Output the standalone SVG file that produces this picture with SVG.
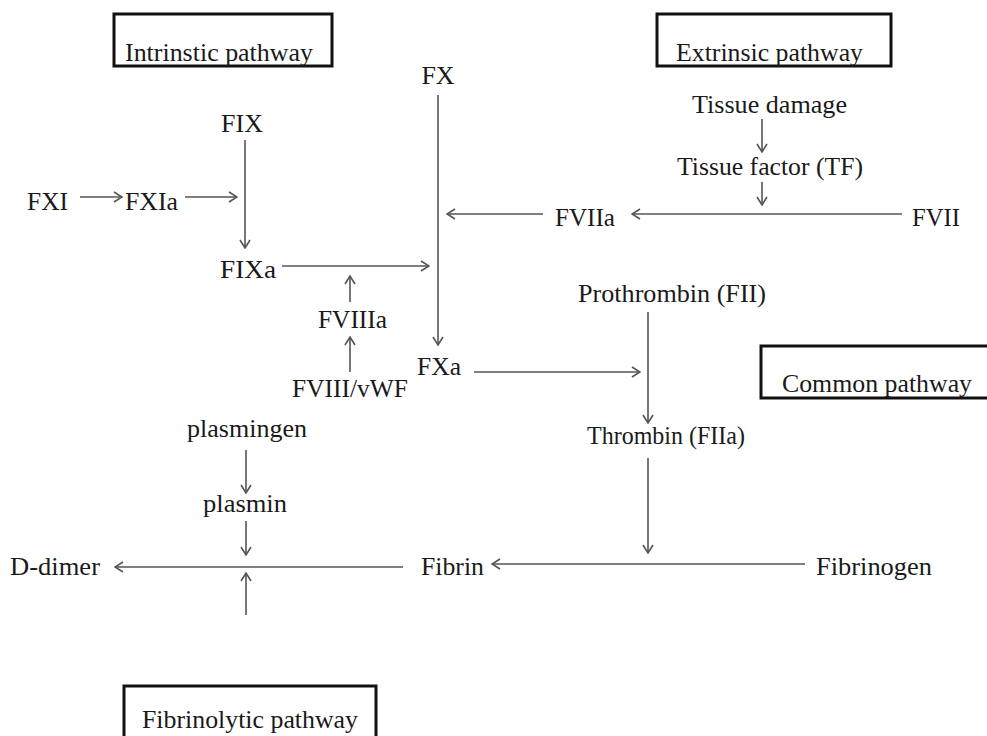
<svg xmlns="http://www.w3.org/2000/svg" width="987" height="736" viewBox="0 0 987 736">
<defs>
<style>
text{font-family:"Liberation Serif","Times New Roman",serif;font-size:26px;fill:#1a1a1a}
.box{fill:#fff;stroke:#111;stroke-width:3}
.c line{stroke:#555;stroke-width:1.6;fill:none;marker-end:url(#ah)}
</style>
<marker id="ah" viewBox="0 0 10 12" refX="9" refY="6" markerWidth="10" markerHeight="12" markerUnits="userSpaceOnUse" orient="auto">
<polyline points="1,1 9,6 1,11" fill="none" stroke="#555" stroke-width="1.6"/>
</marker>
</defs>
<rect width="987" height="736" fill="#fff"/>
<g id="intrinsic-box"><rect class="box" x="114" y="14" width="218" height="52"/><text x="125" y="61" textLength="188" lengthAdjust="spacingAndGlyphs">Intrinstic pathway</text></g>
<g id="extrinsic-box"><rect class="box" x="657" y="14" width="234" height="52"/><text x="676" y="61" textLength="187" lengthAdjust="spacingAndGlyphs">Extrinsic pathway</text></g>
<g id="common-box"><rect class="box" x="761" y="346" width="240" height="52"/><text x="782" y="392" textLength="190" lengthAdjust="spacingAndGlyphs">Common pathway</text></g>
<g id="fibrinolytic-box"><rect class="box" x="124" y="686" width="252" height="60"/><text x="142" y="728" textLength="216" lengthAdjust="spacingAndGlyphs">Fibrinolytic pathway</text></g>
<g id="n-fx"><text x="438" y="84" text-anchor="middle">FX</text></g>
<g id="n-tissue-damage"><text x="692" y="113" textLength="155" lengthAdjust="spacingAndGlyphs">Tissue damage</text></g>
<g id="n-tf"><text x="677" y="175" textLength="186" lengthAdjust="spacingAndGlyphs">Tissue factor (TF)</text></g>
<g id="n-fix"><text x="242" y="132" text-anchor="middle">FIX</text></g>
<g id="n-fxi"><text x="27" y="210" textLength="41" lengthAdjust="spacingAndGlyphs">FXI</text></g>
<g id="n-fxia"><text x="125" y="210" textLength="53" lengthAdjust="spacingAndGlyphs">FXIa</text></g>
<g id="n-fviia"><text x="555" y="226" textLength="60" lengthAdjust="spacingAndGlyphs">FVIIa</text></g>
<g id="n-fvii"><text x="912" y="226" textLength="48" lengthAdjust="spacingAndGlyphs">FVII</text></g>
<g id="n-fixa"><text x="220" y="278" textLength="56" lengthAdjust="spacingAndGlyphs">FIXa</text></g>
<g id="n-prothrombin"><text x="578" y="302" textLength="188" lengthAdjust="spacingAndGlyphs">Prothrombin (FII)</text></g>
<g id="n-fviiia"><text x="318" y="328" textLength="69" lengthAdjust="spacingAndGlyphs">FVIIIa</text></g>
<g id="n-fxa"><text x="417" y="375" textLength="44" lengthAdjust="spacingAndGlyphs">FXa</text></g>
<g id="n-fviii"><text x="292" y="397" textLength="116" lengthAdjust="spacingAndGlyphs">FVIII/vWF</text></g>
<g id="n-plasmingen"><text x="187" y="437" textLength="120" lengthAdjust="spacingAndGlyphs">plasmingen</text></g>
<g id="n-thrombin"><text x="587" y="444" textLength="158" lengthAdjust="spacingAndGlyphs">Thrombin (FIIa)</text></g>
<g id="n-plasmin"><text x="203" y="512" textLength="84" lengthAdjust="spacingAndGlyphs">plasmin</text></g>
<g id="n-ddimer"><text x="10" y="575" textLength="90" lengthAdjust="spacingAndGlyphs">D-dimer</text></g>
<g id="n-fibrin"><text x="421" y="575" textLength="63" lengthAdjust="spacingAndGlyphs">Fibrin</text></g>
<g id="n-fibrinogen"><text x="816" y="575" textLength="116" lengthAdjust="spacingAndGlyphs">Fibrinogen</text></g>
<g id="connectors" class="c">
<line x1="80" y1="197" x2="122" y2="197"/>
<line x1="185" y1="197" x2="237" y2="197"/>
<line x1="245" y1="140" x2="245" y2="248"/>
<line x1="438" y1="95" x2="438" y2="345"/>
<line x1="282" y1="266" x2="429" y2="266"/>
<line x1="543" y1="214" x2="447" y2="214"/>
<line x1="902" y1="214" x2="632" y2="214"/>
<line x1="762" y1="119" x2="762" y2="152"/>
<line x1="762" y1="182" x2="762" y2="205"/>
<line x1="350" y1="302" x2="350" y2="276"/>
<line x1="350" y1="372" x2="350" y2="337"/>
<line x1="474" y1="372" x2="640" y2="372"/>
<line x1="648" y1="312" x2="648" y2="423"/>
<line x1="648" y1="458" x2="648" y2="553"/>
<line x1="805" y1="564" x2="492" y2="564"/>
<line x1="403" y1="567" x2="115" y2="567"/>
<line x1="246" y1="450" x2="246" y2="493"/>
<line x1="246" y1="521" x2="246" y2="555"/>
<line x1="246" y1="615" x2="246" y2="573"/>
</g>
</svg>
